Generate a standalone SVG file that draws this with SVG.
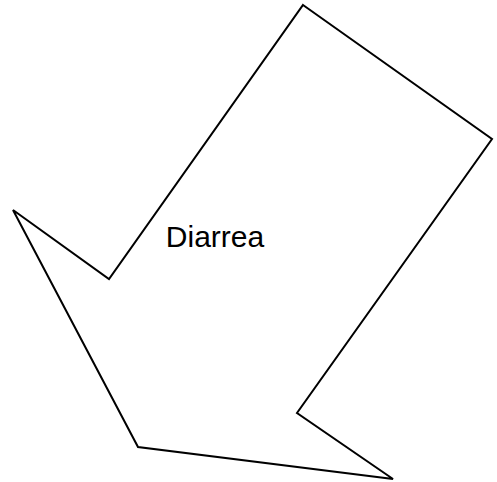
<svg xmlns="http://www.w3.org/2000/svg" width="497" height="482" viewBox="0 0 497 482">
<style>
.shape{fill:#fff;stroke:#000;stroke-width:2;stroke-linejoin:miter}
.lbl{font-family:"Liberation Sans",Arial,sans-serif;font-size:30px;fill:#000}
</style>
<rect width="497" height="482" fill="#fff"/>
<g id="arrow">
<polygon class="shape" points="303,5 492,139 297,413 393,479 138,447 13,210 109,279"/>
<text class="lbl" x="215" y="247" text-anchor="middle">Diarrea</text>
</g>
<g id="connectors"/>
</svg>
